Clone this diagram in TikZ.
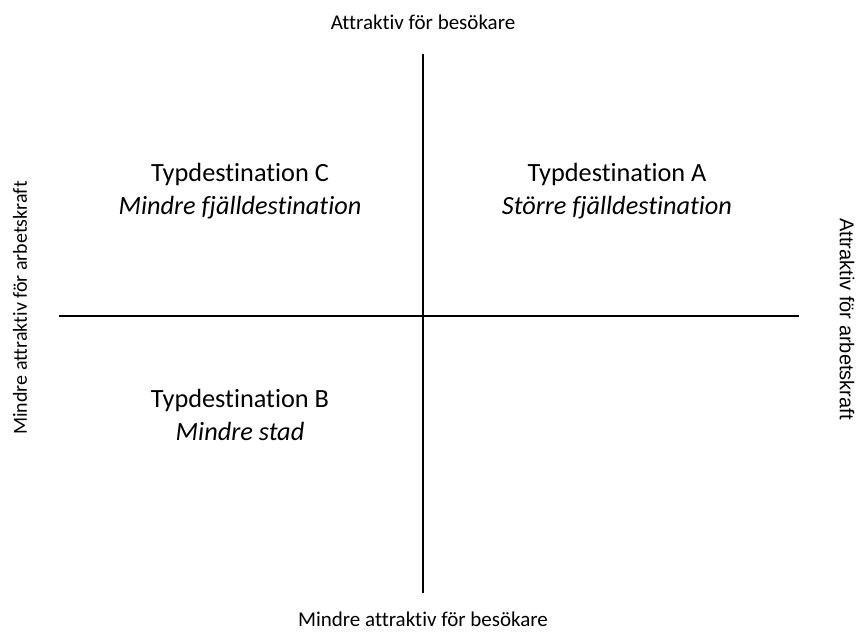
\documentclass[tikz,border=0pt]{standalone}
\usepackage{fontspec}
\setmainfont{Carlito}[Ligatures=NoCommon]
\newfontfamily\arialfont{Liberation Sans}
\usetikzlibrary{positioning}

\begin{document}
\begin{tikzpicture}[x=1pt, y=-1pt, line width=1.2pt]
        % Estilos para etiquetas de ejes y cuadrantes
        \tikzstyle{axlabel} = [font=\fontsize{21}{25}\selectfont, inner sep=0pt]
        \tikzstyle{quadrant} = [font=\fontsize{26.3}{33}\selectfont, align=center, inner sep=0pt]
        \useasboundingbox (0,0) rectangle (866,632);

        % Nodes
        \node at (423,54) [coordinate] (axisTop){};
        \node at (423,593) [coordinate] (axisBottom){};
        \node at (59,316) [coordinate] (axisLeft){};
        \node at (799,316) [coordinate] (axisRight){};

        \node [axlabel] at (423,22) (besokHigh) {Attraktiv för besökare};
        \node [axlabel] at (423,619) (besokLow) {Mindre attraktiv för besökare};
        \node [axlabel, rotate=90, font=\fontsize{20}{24}\selectfont] at (20,308) (arbLow) {Mindre attraktiv för arbetskraft};
        \node [axlabel, rotate=-90, font=\arialfont\fontsize{20}{24}\selectfont] at (847,319) (arbHigh) {Attraktiv för arbetskraft};

        \node [quadrant] at (240,191) (typC) {Typdestination C\\\textit{Mindre fjälldestination}};
        \node [quadrant] at (617,191) (typA) {Typdestination A\\\textit{Större fjälldestination}};
        \node [quadrant] at (240,415) (typB) {Typdestination B\\\textit{Mindre stad}};

        % Lines
        \draw [-] (axisTop) -- (axisBottom);
        \draw [-] (axisLeft) -- (axisRight);

      \end{tikzpicture}
\end{document}
